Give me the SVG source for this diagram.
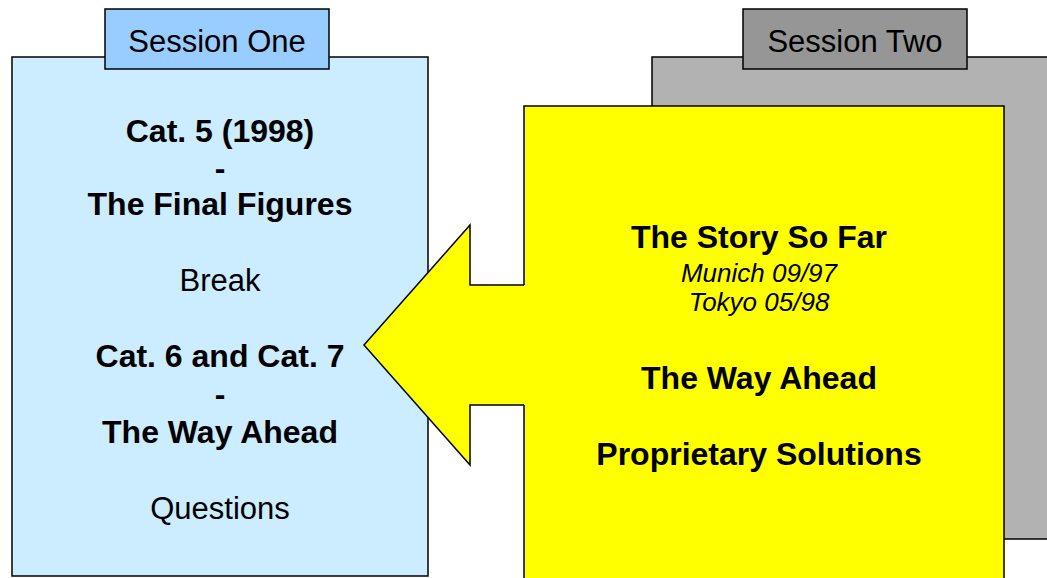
<svg xmlns="http://www.w3.org/2000/svg" width="1047" height="578" viewBox="0 0 1047 578">
  <style>
    .box { stroke: #000; stroke-width: 1.5; }
    .t { font-family: "Liberation Sans", Arial, sans-serif; fill: #000; text-anchor: middle; }
    .b { font-weight: bold; font-size: 32px; }
    .r { font-size: 31px; }
    .i { font-style: italic; font-size: 26px; }
  </style>
  <rect width="1047" height="578" fill="#fff"/>

  <!-- Session two panel (behind) -->
  <g id="session-two">
    <rect class="box" x="652" y="57" width="400" height="482" fill="#B2B2B2"/>
    <rect class="box" x="743" y="9" width="224" height="60" fill="#969696"/>
    <text class="t r" x="855" y="52">Session Two</text>
  </g>

  <!-- Session one panel -->
  <g id="session-one">
    <rect class="box" x="12" y="57" width="416" height="519" fill="#CCECFF"/>
    <rect class="box" x="105" y="9" width="224" height="60" fill="#99CCFF"/>
    <text class="t r" x="217" y="52">Session One</text>
    <text class="t b" x="220" y="142">Cat. 5 (1998)</text>
    <text class="t b" x="220" y="179">-</text>
    <text class="t b" x="220" y="215">The Final Figures</text>
    <text class="t r" x="220" y="291">Break</text>
    <text class="t b" x="220" y="367">Cat. 6 and Cat. 7</text>
    <text class="t b" x="220" y="405">-</text>
    <text class="t b" x="220" y="443">The Way Ahead</text>
    <text class="t r" x="220" y="519">Questions</text>
  </g>

  <!-- Yellow content panel -->
  <g id="topics">
    <rect class="box" x="524" y="106" width="480" height="480" fill="#FFFF00"/>
  </g>

  <!-- Block arrow pointing left -->
  <g id="connectors">
    <polygon points="527,285 470,285 470,225 364,345 470,465 470,405 527,405" fill="#FFFF00"/>
    <polyline points="524,285 470,285 470,225 364,345 470,465 470,405 524,405" fill="none" stroke="#000" stroke-width="1.5" stroke-linejoin="miter"/>
  </g>

  <g id="topics-text">
    <text class="t b" x="759" y="248">The Story So Far</text>
    <text class="t i" x="759" y="282">Munich 09/97</text>
    <text class="t i" x="759" y="311">Tokyo 05/98</text>
    <text class="t b" x="759" y="389">The Way Ahead</text>
    <text class="t b" x="759" y="465">Proprietary Solutions</text>
  </g>
</svg>
